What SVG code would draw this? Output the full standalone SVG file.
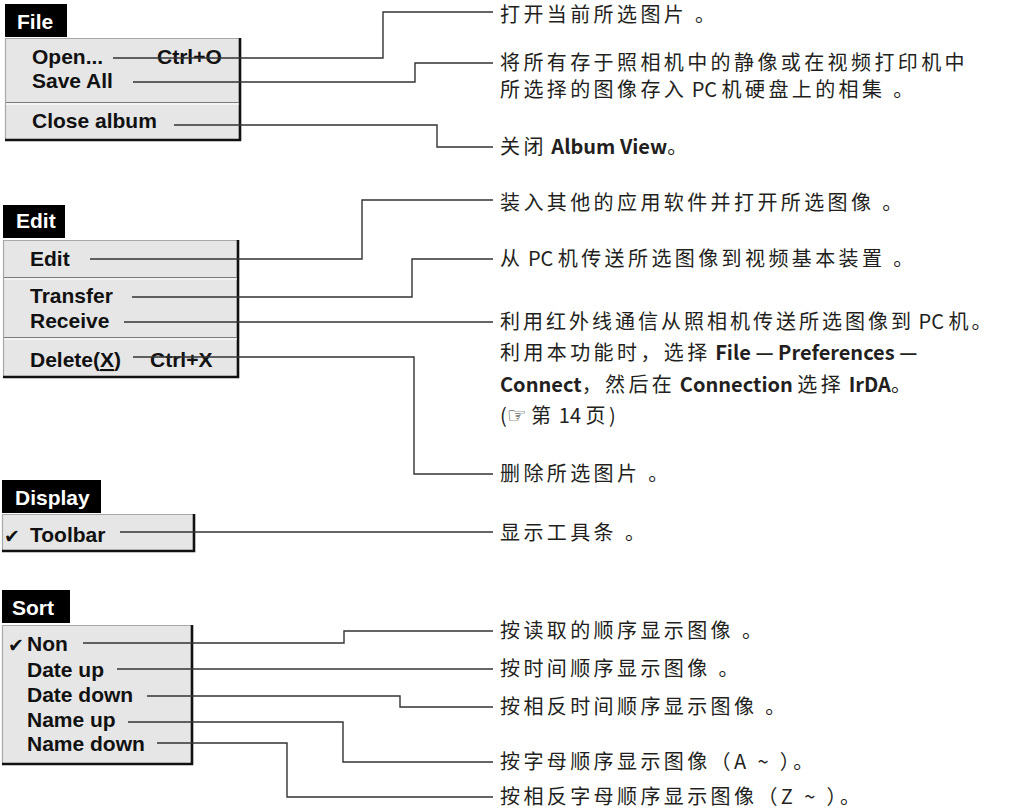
<svg xmlns="http://www.w3.org/2000/svg" width="1009" height="809" viewBox="0 0 1009 809">
<style>
.tab{fill:#000}
.tabt{fill:#fff;font-family:"Liberation Sans",Arial,sans-serif;font-weight:bold;font-size:21px}
.box{fill:#e6e6e6}
.lt{stroke:#a8a8a8;stroke-width:1.2;fill:none}
.dk{stroke:#111;stroke-width:2.6;fill:none}
.sep1{stroke:#7a7a7a;stroke-width:1.2}
.sep2{stroke:#fff;stroke-width:1.2}
.item{fill:#111;font-family:"Liberation Sans",Arial,sans-serif;font-weight:bold;font-size:21px}
.chk{fill:#111;font-family:"DejaVu Sans",sans-serif;font-size:19px}
.con{fill:none;stroke:#333;stroke-width:1.4}
.desc{fill:#231f20;font-family:"Noto Sans CJK SC","Noto Sans",sans-serif;font-size:20px;letter-spacing:3.4px}
.lat{letter-spacing:0px}
.b{font-weight:bold;letter-spacing:0px}
</style>

<g id="menu-file">
<rect class="tab" x="5" y="4" width="62" height="33"/>
<text class="tabt" x="17" y="29">File</text>
<rect class="box" x="5" y="38" width="236" height="103"/>
<path class="lt" d="M5.5,141 V38.5 H240"/>
<path class="dk" d="M240,38 V140 H5"/>
<line class="sep1" x1="6" y1="102.5" x2="239" y2="102.5"/>
<line class="sep2" x1="6" y1="104" x2="239" y2="104"/>
<text class="item" x="32" y="64">Open...</text>
<text class="item" x="157" y="64">Ctrl+O</text>
<text class="item" x="32" y="88">Save All</text>
<text class="item" x="32" y="128">Close album</text>
</g>

<g id="menu-edit">
<rect class="tab" x="3" y="205" width="62" height="33"/>
<text class="tabt" x="16" y="228">Edit</text>
<rect class="box" x="3" y="240" width="236" height="138"/>
<path class="lt" d="M3.5,378 V240.5 H238"/>
<path class="dk" d="M238,240 V377 H3"/>
<line class="sep1" x1="4" y1="277.5" x2="237" y2="277.5"/>
<line class="sep2" x1="4" y1="279" x2="237" y2="279"/>
<line class="sep1" x1="4" y1="337.5" x2="237" y2="337.5"/>
<line class="sep2" x1="4" y1="339" x2="237" y2="339"/>
<text class="item" x="30" y="266">Edit</text>
<text class="item" x="30" y="303">Transfer</text>
<text class="item" x="30" y="328">Receive</text>
<text class="item" x="30" y="367">Delete(<tspan text-decoration="underline">X</tspan>)</text>
<text class="item" x="150" y="367">Ctrl+X</text>
</g>

<g id="menu-display">
<rect class="tab" x="2" y="480" width="99" height="33"/>
<text class="tabt" x="15" y="505">Display</text>
<rect class="box" x="2" y="514" width="193" height="38"/>
<path class="lt" d="M2.5,552 V514.5 H194"/>
<path class="dk" d="M194,514 V551 H2"/>
<text class="chk" x="4" y="543">✔</text>
<text class="item" x="30" y="542">Toolbar</text>
</g>

<g id="menu-sort">
<rect class="tab" x="2" y="590" width="68" height="33"/>
<text class="tabt" x="12" y="615">Sort</text>
<rect class="box" x="2" y="625" width="191" height="140"/>
<path class="lt" d="M2.5,765 V625.5 H192"/>
<path class="dk" d="M192,625 V764 H2"/>
<text class="chk" x="8" y="652">✔</text>
<text class="item" x="27" y="651">Non</text>
<text class="item" x="27" y="677">Date up</text>
<text class="item" x="27" y="702">Date down</text>
<text class="item" x="27" y="727">Name up</text>
<text class="item" x="27" y="751">Name down</text>
</g>

<g id="connectors">
<path class="con" d="M113,58 H383 V12 H493"/>
<path class="con" d="M133,82 H415 V63 H493"/>
<path class="con" d="M174,125 H437 V147 H493"/>
<path class="con" d="M90,259 H362 V200 H493"/>
<path class="con" d="M132,297 H412 V259 H493"/>
<path class="con" d="M124,322 H493"/>
<path class="con" d="M133,357 H414 V474 H493"/>
<path class="con" d="M120,532 H493"/>
<path class="con" d="M83,643 H344 V631 H493"/>
<path class="con" d="M117,669 H493"/>
<path class="con" d="M147,696 H400 V707 H493"/>
<path class="con" d="M128,722 H343 V762 H493"/>
<path class="con" d="M157,743 H287 V797 H493"/>
</g>

<g id="descriptions">
<text class="desc" x="500" y="22">打开当前所选图片 。</text>
<text class="desc" x="500" y="70">将所有存于照相机中的静像或在视频打印机中</text>
<text class="desc" x="500" y="97">所选择的图像存入<tspan class="lat"> PC </tspan>机硬盘上的相集 。</text>
<text class="desc" x="500" y="154">关闭<tspan class="b"> Album View</tspan>。</text>
<text class="desc" x="500" y="210">装入其他的应用软件并打开所选图像 。</text>
<text class="desc" x="500" y="266">从<tspan class="lat"> PC </tspan>机传送所选图像到视频基本装置 。</text>
<text class="desc" x="500" y="329" style="letter-spacing:3px">利用红外线通信从照相机传送所选图像到<tspan class="lat"> PC </tspan>机。</text>
<text class="desc" x="500" y="360">利用本功能时，选择<tspan class="b"> File — Preferences —</tspan></text>
<text class="desc" x="500" y="392"><tspan class="b">Connect</tspan>，然后在<tspan class="b"> Connection </tspan>选择<tspan class="b"> IrDA</tspan>。</text>
<text class="desc" x="500" y="423"><tspan class="lat">(</tspan><tspan class="lat" font-family="DejaVu Sans" font-size="22">☞</tspan><tspan class="lat"> </tspan>第<tspan class="lat"> 14 </tspan>页<tspan class="lat">)</tspan></text>
<text class="desc" x="500" y="481">删除所选图片 。</text>
<text class="desc" x="500" y="540">显示工具条 。</text>
<text class="desc" x="500" y="638">按读取的顺序显示图像 。</text>
<text class="desc" x="500" y="676">按时间顺序显示图像 。</text>
<text class="desc" x="500" y="714">按相反时间顺序显示图像 。</text>
<text class="desc" x="500" y="769">按字母顺序显示图像（A ~ ）。</text>
<text class="desc" x="500" y="804">按相反字母顺序显示图像（Z ~ ）。</text>
</g>
</svg>
